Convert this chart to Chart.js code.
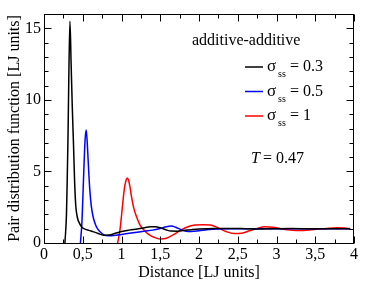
<!DOCTYPE html>
<html>
<head>
<meta charset="utf-8">
<script src="https://cdn.jsdelivr.net/npm/chart.js@4.4.1/dist/chart.umd.min.js"></script>
<style>
  html, body { margin: 0; padding: 0; background: #fff; }
</style>
</head>
<body>
<canvas id="rdf" width="366" height="295"></canvas>
<script>
// pair distribution g(r), one pair of arrays per sigma_ss
const dist03 = [0.27, 0.29, 0.30, 0.31, 0.32, 0.335, 0.35, 0.365, 0.38, 0.395, 0.41, 0.43, 0.46, 0.49, 0.53, 0.58, 0.64, 0.70, 0.77, 0.84, 0.92, 1.0, 1.1, 1.2, 1.3, 1.37, 1.44, 1.5, 1.57, 1.64, 1.72, 1.8, 1.9, 2.0, 2.2, 2.4, 2.6, 2.8, 3.0, 3.2, 3.4, 3.6, 3.8, 3.95];
const g03 = [0, 2.0, 4.5, 7.5, 11.5, 15.5, 12.5, 9.5, 7.0, 4.3, 2.6, 1.8, 1.35, 1.1, 0.97, 0.88, 0.78, 0.66, 0.55, 0.56, 0.68, 0.8, 0.9, 0.98, 1.07, 1.14, 1.14, 1.06, 0.93, 0.83, 0.82, 0.87, 0.93, 0.98, 1.02, 1.02, 1.0, 0.98, 1.0, 1.01, 1.0, 0.99, 1.0, 1.0];

const dist05 = [0.47, 0.49, 0.51, 0.53, 0.545, 0.56, 0.575, 0.59, 0.61, 0.635, 0.66, 0.69, 0.73, 0.78, 0.83, 0.9, 1.0, 1.1, 1.2, 1.3, 1.4, 1.5, 1.58, 1.64, 1.7, 1.76, 1.82, 1.9, 2.0, 2.1, 2.25, 2.4, 2.6, 2.8, 3.0, 3.2, 3.4, 3.6, 3.8, 3.95];
const g05 = [0, 1.5, 4.5, 7.2, 7.9, 6.8, 5.2, 3.8, 2.6, 1.8, 1.35, 1.0, 0.75, 0.55, 0.5, 0.52, 0.6, 0.68, 0.75, 0.83, 0.9, 1.02, 1.14, 1.18, 1.1, 0.95, 0.84, 0.8, 0.85, 0.92, 0.98, 1.0, 1.0, 0.99, 1.0, 1.0, 1.0, 0.99, 1.0, 1.0];

const dist1 = [0.95, 0.98, 1.0, 1.02, 1.04, 1.06, 1.075, 1.09, 1.11, 1.13, 1.16, 1.2, 1.24, 1.29, 1.35, 1.42, 1.5, 1.58, 1.66, 1.75, 1.85, 1.95, 2.05, 2.15, 2.25, 2.35, 2.45, 2.55, 2.65, 2.75, 2.85, 2.95, 3.05, 3.15, 3.25, 3.35, 3.45, 3.55, 3.65, 3.78, 3.88, 3.95];
const g1 = [0, 0.9, 1.9, 3.0, 3.9, 4.4, 4.55, 4.4, 3.9, 3.2, 2.4, 1.75, 1.25, 0.9, 0.6, 0.4, 0.28, 0.33, 0.55, 0.85, 1.12, 1.25, 1.28, 1.25, 1.05, 0.8, 0.66, 0.68, 0.85, 1.02, 1.13, 1.1, 1.0, 0.92, 0.88, 0.88, 0.92, 0.97, 1.02, 1.06, 1.04, 1.0];

const sigmaLabels = ['0.3', '0.5', '1'];
const xMajor = [0, 0.5, 1, 1.5, 2, 2.5, 3, 3.5, 4];
const xMinor = [0.25, 0.75, 1.25, 1.75, 2.25, 2.75, 3.25, 3.75];
const yMajor = [0, 5, 10, 15];
const yMinor = [1, 2, 3, 4, 6, 7, 8, 9, 11, 12, 13, 14];

const FONT = "'Liberation Serif', 'DejaVu Serif', serif";
const pts = (xs, ys) => xs.map((x, i) => ({ x: x, y: ys[i] }));

// frame + inward ticks on all four sides
const frameTicks = {
    id: 'frameTicks',
    afterDatasetsDraw(chart) {
        const { ctx, chartArea: a, scales: { x, y } } = chart;
        const L = Math.round(a.left) + 0.5, R = Math.round(a.right) - 0.5;
        const T = Math.round(a.top) + 0.5, B = Math.round(a.bottom) + 0.5;
        ctx.save();
        ctx.strokeStyle = '#000';
        ctx.lineWidth = 1;
        ctx.beginPath();
        const hTick = (v, len) => {
            const px = Math.round(x.getPixelForValue(v)) + 0.5;
            ctx.moveTo(px, B); ctx.lineTo(px, B - len);
            ctx.moveTo(px, T); ctx.lineTo(px, T + len);
        };
        const vTick = (v, len) => {
            const py = Math.round(y.getPixelForValue(v)) + 0.5;
            ctx.moveTo(L, py); ctx.lineTo(L + len, py);
            ctx.moveTo(R, py); ctx.lineTo(R - len, py);
        };
        xMajor.forEach(v => hTick(v, 7));
        xMinor.forEach(v => hTick(v, 4));
        yMajor.forEach(v => vTick(v, 7));
        yMinor.forEach(v => vTick(v, 4));
        ctx.stroke();
        ctx.strokeRect(L, T, R - L, B - T);
        ctx.restore();
    },
};

// legend block: title, sigma_ss entries, temperature
const legendText = {
    id: 'legendText',
    afterDraw(chart) {
        const { ctx } = chart;
        const colors = chart.data.datasets.map(d => d.borderColor);
        ctx.save();
        ctx.fillStyle = '#000';
        ctx.textBaseline = 'alphabetic';
        ctx.font = '16px ' + FONT;
        ctx.fillText('additive-additive', 192, 45);
        sigmaLabels.forEach((lab, i) => {
            const yb = 71 + i * 24.5;
            ctx.strokeStyle = colors[i];
            ctx.lineWidth = 1.5;
            ctx.beginPath();
            ctx.moveTo(245, yb - 4);
            ctx.lineTo(263, yb - 4);
            ctx.stroke();
            ctx.font = '17px ' + FONT;
            ctx.fillText('σ', 267, yb);
            ctx.font = '10px ' + FONT;
            ctx.fillText('ss', 278, yb + 6);
            ctx.font = '16px ' + FONT;
            ctx.fillText('= ' + lab, 290, yb);
        });
        ctx.font = 'italic 16px ' + FONT;
        ctx.fillText('T', 251, 163);
        ctx.font = '16px ' + FONT;
        ctx.fillText('= 0.47', 263, 163);
        ctx.restore();
    },
};

const lineStyle = { borderWidth: 1.5, pointRadius: 0, cubicInterpolationMode: 'monotone', fill: false };

new Chart(document.getElementById('rdf').getContext('2d'), {
    type: 'line',
    data: {
        datasets: [
            { label: 'σss = 0.3', data: pts(dist03, g03), borderColor: '#000000', ...lineStyle },
            { label: 'σss = 0.5', data: pts(dist05, g05), borderColor: '#0000ff', ...lineStyle },
            { label: 'σss = 1', data: pts(dist1, g1), borderColor: '#ff0000', ...lineStyle },
        ],
    },
    options: {
        responsive: false,
        animation: false,
        devicePixelRatio: 1,
        layout: { padding: { top: 14, right: 12, left: 0, bottom: 0 } },
        plugins: { legend: { display: false }, tooltip: { enabled: false } },
        scales: {
            x: {
                type: 'linear',
                min: 0, max: 4,
                afterFit: s => { s.height = 52; },
                afterBuildTicks: s => { s.ticks = xMajor.map(v => ({ value: v })); },
                grid: { display: false, drawTicks: false },
                border: { display: false },
                ticks: {
                    color: '#000', padding: 2,
                    font: { family: FONT, size: 16 },
                    maxRotation: 0,
                    callback: v => String(v).replace('.', ','),
                },
                title: {
                    display: true, text: 'Distance [LJ units]', color: '#000',
                    font: { family: FONT, size: 16 },
                    padding: { top: 0, bottom: 13 },
                },
            },
            y: {
                min: 0, max: 16,
                afterFit: s => { s.width = 44; },
                afterBuildTicks: s => { s.ticks = yMajor.map(v => ({ value: v })); },
                grid: { display: false, drawTicks: false },
                border: { display: false },
                ticks: {
                    color: '#000', padding: 3,
                    font: { family: FONT, size: 16 },
                },
                title: {
                    display: true, text: 'Pair distribution function [LJ units]', color: '#000',
                    font: { family: FONT, size: 16 },
                    padding: { top: 5, bottom: 0 },
                },
            },
        },
    },
    plugins: [frameTicks, legendText],
});
</script>
</body>
</html>
